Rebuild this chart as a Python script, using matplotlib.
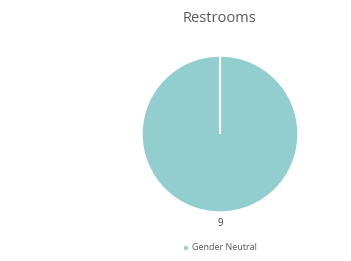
import matplotlib
matplotlib.use("Agg")
import matplotlib.pyplot as plt
import numpy as np

categories = ["Gender Neutral"]
values = [9]
colors = ["#92CDCF"]
title = "Restrooms"

W, H = 351, 261
fig = plt.figure(figsize=(W/100, H/100), dpi=100)
plt.rcParams['font.family'] = ['Open Sans', 'DejaVu Sans']

cx, cy, r = 220, 134, 78
ax = fig.add_axes([(cx - r)/W, 1 - (cy + r)/H, 2*r/W, 2*r/H])
wedges, _ = ax.pie(values, colors=colors, startangle=90, counterclock=False,
                   wedgeprops=dict(edgecolor="white", linewidth=1.0))
# slice boundary (radial edge of the single full slice)
for w in wedges:
    th = np.deg2rad(w.theta2)
    ax.plot([w.center[0], w.center[0] + w.r*np.cos(th)],
            [w.center[1], w.center[1] + w.r*np.sin(th)],
            color="white", linewidth=1.5, solid_capstyle='butt')
ax.set_xlim(-1, 1); ax.set_ylim(-1, 1)
ax.set_aspect('equal')
ax.axis('off')

fig.text(cx/W, 1 - 18/H, title, ha='center', va='center', fontsize=10.5, color='#595959')
fig.text(cx/W, 1 - 224/H, str(values[0]), ha='center', va='center', fontsize=7, color='#404040')
fig.legend(wedges, categories, loc='center', bbox_to_anchor=(cx/W, 1 - 248/H),
           frameon=False, fontsize=6.5, handlelength=0.5, handleheight=0.5,
           handletextpad=0.5, labelcolor='#595959')

fig.savefig("out.png", dpi=100)
